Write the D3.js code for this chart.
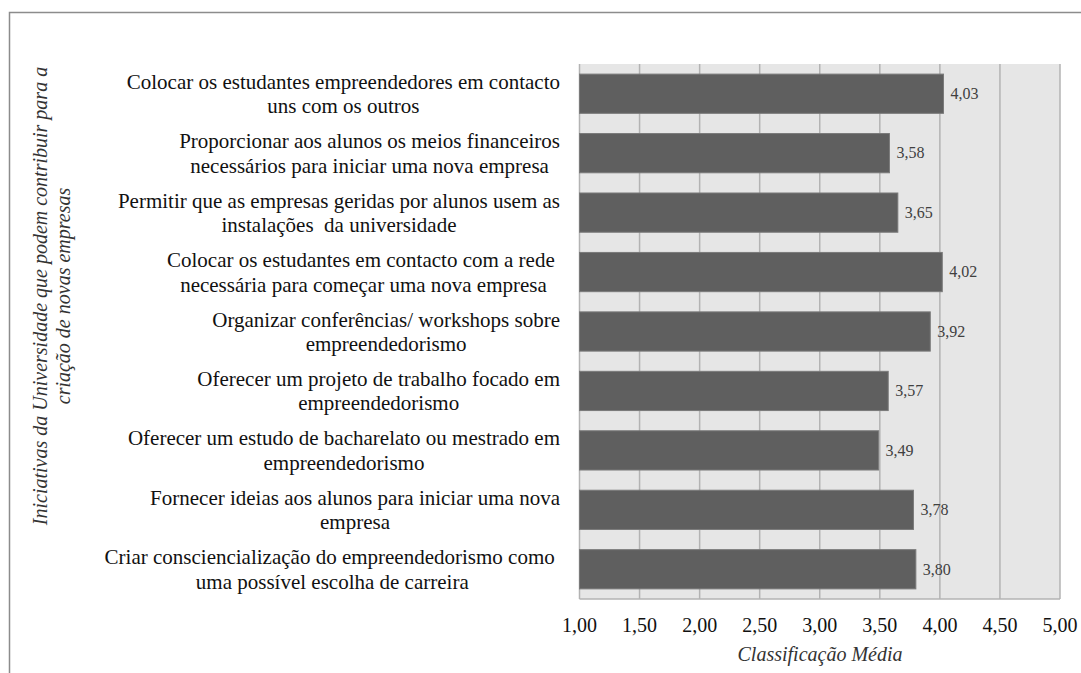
<!DOCTYPE html>
<html><head><meta charset="utf-8">
<script src="https://cdn.jsdelivr.net/npm/d3@7"></script>
<style>body{margin:0;background:#fff}svg{display:block}</style>
</head><body>
<svg id="c" width="1081" height="673"></svg>
<script>
const categories = [
  ["Colocar os estudantes empreendedores em contacto", "uns com os outros"],
  ["Proporcionar aos alunos os meios financeiros", "necessários para iniciar uma nova empresa"],
  ["Permitir que as empresas geridas por alunos usem as", "instalações  da universidade"],
  ["Colocar os estudantes em contacto com a rede ", "necessária para começar uma nova empresa"],
  ["Organizar conferências/ workshops sobre", "empreendedorismo"],
  ["Oferecer um projeto de trabalho focado em", "empreendedorismo"],
  ["Oferecer um estudo de bacharelato ou mestrado em", "empreendedorismo"],
  ["Fornecer ideias aos alunos para iniciar uma nova", "empresa"],
  ["Criar consciencialização do empreendedorismo como ", "uma possível escolha de carreira"]
];
const values = [4.03, 3.58, 3.65, 4.02, 3.92, 3.57, 3.49, 3.78, 3.80];
const xTicks = [1.0, 1.5, 2.0, 2.5, 3.0, 3.5, 4.0, 4.5, 5.0];
const xTitle = "Classificação Média";
const yTitle = ["Iniciativas da Universidade que podem contribuir para a", "criação de novas empresas"];

const svg = d3.select("#c");
const FF = '"Liberation Serif", "Times New Roman", serif';
const fmt = v => v.toFixed(2).replace(".", ",");
const len = sel => sel.node().getComputedTextLength();
const centre = (sel, cx) => sel.attr("x", cx - len(sel) / 2);

// outer border
svg.append("rect").attr("x", 9.5).attr("y", 12.5).attr("width", 1200).attr("height", 800)
  .attr("fill", "#fff").attr("stroke", "#8c8c8c").attr("stroke-width", 1.5);

const pL = 579.5, pR = 1060, pT = 64, pB = 599;
const x = d3.scaleLinear().domain([1, 5]).range([pL, pR]);
const y = d3.scaleBand().domain(d3.range(categories.length)).range([pT, pB]).paddingInner(0.34).paddingOuter(0.17);

svg.append("rect").attr("x", pL).attr("y", pT).attr("width", pR - pL).attr("height", pB - pT).attr("fill", "#e6e6e6");

svg.append("g").selectAll("line").data(xTicks).join("line")
  .attr("x1", d => x(d)).attr("x2", d => x(d)).attr("y1", pT).attr("y2", pB)
  .attr("stroke", "#b3b3b3").attr("stroke-width", 1.5);
svg.append("line").attr("x1", pL).attr("x2", pR).attr("y1", pB).attr("y2", pB)
  .attr("stroke", "#b3b3b3").attr("stroke-width", 1.5);

svg.append("g").selectAll("rect").data(values).join("rect")
  .attr("x", x(1)).attr("y", (d, i) => y(i)).attr("width", d => x(d) - x(1)).attr("height", y.bandwidth())
  .attr("fill", "#5f5f5f").attr("stroke", "#7a7a7a").attr("stroke-width", 1);

svg.append("g").selectAll("text").data(values).join("text")
  .attr("x", d => x(d) + 7).attr("y", (d, i) => y(i) + y.bandwidth() / 2).attr("dy", "0.33em")
  .style("font-family", FF).attr("font-size", 16).attr("fill", "#404040")
  .text(d => fmt(d));

// category labels: lines centred within a block whose right edge is at 560
const lab = svg.append("g");
categories.forEach((lines, i) => {
  const cy = y(i) + y.bandwidth() / 2;
  const ts = lines.map((s, k) => lab.append("text").style("font-family", FF).style("white-space", "pre")
    .attr("font-size", 21).attr("fill", "#111").attr("y", cy + (k === 0 ? -5 : 19.5)).text(s));
  const w = d3.max(ts, len);
  ts.forEach(t => centre(t, 560 - w / 2));
});

// x tick labels
svg.append("g").selectAll("text").data(xTicks).join("text")
  .attr("y", 632).style("font-family", FF).attr("font-size", 20).attr("fill", "#111")
  .text(d => fmt(d))
  .each(function (d) { centre(d3.select(this), x(d)); });

centre(svg.append("text").attr("y", 661).style("font-family", FF).attr("font-size", 20)
  .attr("font-style", "italic").attr("fill", "#333").text(xTitle), 820);

const yt = svg.append("g").attr("transform", "translate(0,296) rotate(-90)");
yTitle.forEach((s, k) => {
  centre(yt.append("text").attr("y", k === 0 ? 47 : 70).style("font-family", FF).attr("font-size", 20)
    .attr("font-style", "italic").attr("fill", "#333").text(s), 0);
});
</script>
</body></html>
